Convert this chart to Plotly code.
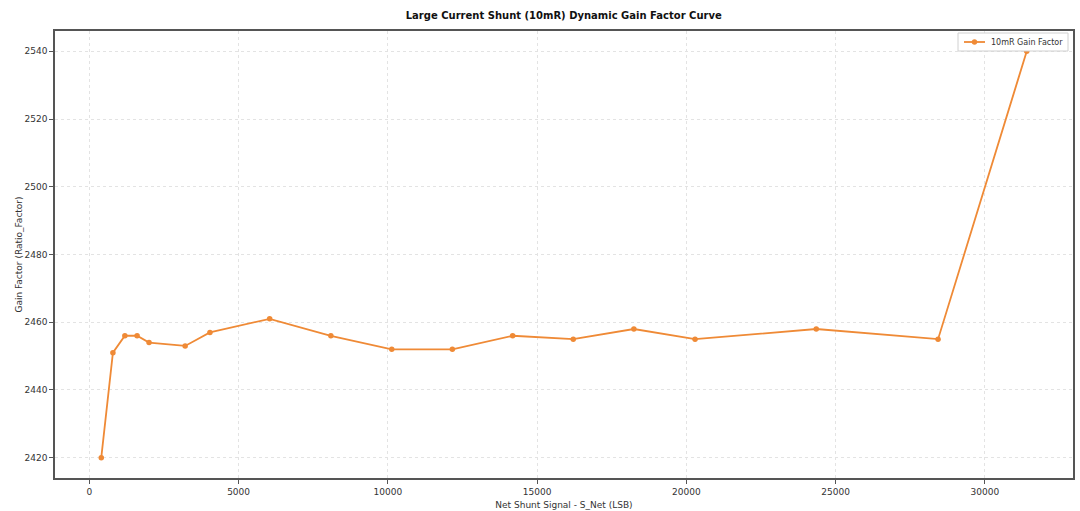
import plotly.graph_objects as go

s_net = [400, 790, 1190, 1600, 2000, 3210, 4040, 6040, 8090, 10130, 12160,
         14180, 16210, 18240, 20290, 24350, 28430, 31400]
gain = [2420, 2451, 2456, 2456, 2454, 2453, 2457, 2461, 2456, 2452, 2452,
        2456, 2455, 2458, 2455, 2458, 2455, 2540]

x_ticks = [0, 5000, 10000, 15000, 20000, 25000, 30000]
x_tick_labels = ["0", "5000", "10000", "15000", "20000", "25000", "30000"]
y_ticks = [2420, 2440, 2460, 2480, 2500, 2520, 2540]
y_tick_labels = ["2420", "2440", "2460", "2480", "2500", "2520", "2540"]
series_name = "10mR Gain Factor"

color = "#ef8a36"
font = "DejaVu Sans"

fig = go.Figure()
fig.add_trace(go.Scatter(
    x=s_net, y=gain, mode="lines+markers", name=series_name,
    line=dict(color=color, width=1.8),
    marker=dict(color=color, size=5.5),
))

axis_common = dict(
    showline=True, linecolor="#555555", linewidth=1.5, mirror=True,
    ticks="outside", ticklen=4, tickcolor="#555555", tickwidth=1,
    showgrid=True, gridcolor="#e3e3e3", griddash="3px,3px", gridwidth=1,
    zeroline=False, automargin=False,
    tickfont=dict(family=font, size=9, color="#333333"),
)

# plot area in pixels: x 55..1073, y 31..478
L, R, T, B = 55, 1073, 31, 478
def px(x):
    return (x - L) / (R - L)
def py(y):
    return (B - y) / (B - T)

shapes = [
    dict(type="rect", xref="paper", yref="paper",
         x0=px(958), x1=px(1068), y0=py(51), y1=py(33),
         line=dict(color="#d0d0d0", width=1), fillcolor="white", layer="above"),
    dict(type="line", xref="paper", yref="paper",
         x0=px(964), x1=px(985), y0=py(42), y1=py(42),
         line=dict(color=color, width=1.8), layer="above"),
    dict(type="circle", xref="paper", yref="paper",
         x0=px(971.8), x1=px(977.2), y0=py(44.7), y1=py(39.3),
         line=dict(color=color, width=0), fillcolor=color, layer="above"),
]

annotations = [
    dict(text=series_name, xref="paper", yref="paper", x=px(989), y=py(42),
         xanchor="left", yanchor="middle", showarrow=False,
         font=dict(family=font, size=8, color="#333333")),
]

fig.update_layout(
    width=1080, height=511,
    margin=dict(l=L, r=1080 - R, t=T, b=511 - B),
    paper_bgcolor="white", plot_bgcolor="white",
    title=dict(text="<b>Large Current Shunt (10mR) Dynamic Gain Factor Curve</b>",
               x=0.522, xanchor="center", y=1 - 15 / 511, yanchor="middle",
               font=dict(family=font, size=10, color="#111111")),
    xaxis=dict(range=[-1150, 32950], tickvals=x_ticks, ticktext=x_tick_labels,
               title=dict(text="Net Shunt Signal - S_Net (LSB)", standoff=6,
                          font=dict(family=font, size=9, color="#333333")),
               **axis_common),
    yaxis=dict(range=[2414, 2546], tickvals=y_ticks, ticktext=y_tick_labels,
               title=dict(text="Gain Factor (Ratio_Factor)", standoff=0,
                          font=dict(family=font, size=9, color="#333333")),
               **axis_common),
    shapes=shapes,
    annotations=annotations,
    showlegend=False,
)

fig.write_html("out.html")
